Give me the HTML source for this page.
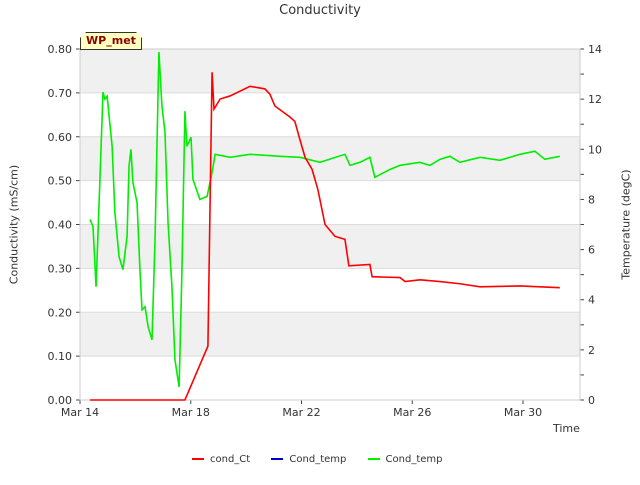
<!DOCTYPE html>
<html><head><style>
body{margin:0;background:#fff;font-family:"Liberation Sans","DejaVu Sans",sans-serif;}
text{font-family:"DejaVu Sans","Liberation Sans",sans-serif;}
</style></head><body>
<svg id="c" width="640" height="480" xmlns="http://www.w3.org/2000/svg"></svg>
<script>
const xTickLabels=["Mar 14","Mar 18","Mar 22","Mar 26","Mar 30"];
const xTickDays=[0,4,8,12,16];
const yLeftTicks=[0,0.1,0.2,0.3,0.4,0.5,0.6,0.7,0.8];
const yRightTicks=[0,2,4,6,8,10,12,14];
const condDays=[0.36,3.79,4.62,4.77,4.84,5.06,5.42,6.14,6.68,6.86,7.04,7.58,7.76,7.94,8.13,8.38,8.59,8.85,9.21,9.57,9.71,10.47,10.55,11.56,11.74,12.28,13.0,13.72,14.45,15.89,17.33];
const condVals=[0,0,0.123,0.747,0.663,0.686,0.693,0.715,0.709,0.697,0.67,0.645,0.635,0.594,0.553,0.526,0.48,0.4,0.373,0.366,0.306,0.309,0.281,0.279,0.27,0.274,0.27,0.265,0.258,0.26,0.256];
const tempDays=[0.36,0.47,0.58,0.72,0.83,0.9,0.98,1.16,1.26,1.41,1.55,1.7,1.77,1.84,1.91,2.06,2.17,2.24,2.35,2.46,2.6,2.71,2.85,2.96,3.07,3.18,3.32,3.43,3.58,3.68,3.79,3.86,4.01,4.08,4.33,4.59,4.77,4.88,5.42,6.14,7.22,7.94,8.67,9.57,9.75,10.11,10.47,10.65,11.2,11.56,12.28,12.64,13.0,13.36,13.72,14.45,15.17,15.89,16.43,16.79,17.33];
const tempVals=[7.2,6.92,4.52,8.8,12.28,12.0,12.12,10.12,7.48,5.72,5.2,6.52,9.32,10.0,8.68,7.88,5.08,3.6,3.72,2.92,2.4,6.4,13.88,11.72,10.68,7.08,4.52,1.6,0.52,5.08,11.52,10.12,10.48,8.8,8.0,8.12,9.08,9.8,9.68,9.8,9.72,9.68,9.48,9.8,9.36,9.48,9.68,8.88,9.2,9.36,9.48,9.36,9.6,9.72,9.48,9.68,9.56,9.8,9.92,9.6,9.72];
const L=80,R=580,T=49,B=400;
const x=d=>L+d*(523-80)/16;
const yl=v=>B-v*(B-T)/0.8;
const yr=v=>B-v*(B-T)/14;
const svg=document.getElementById('c');
const NS="http://www.w3.org/2000/svg";
function mk(tag,attrs,parent){const e=document.createElementNS(NS,tag);for(const k in attrs)e.setAttribute(k,attrs[k]);(parent||svg).appendChild(e);return e;}
for(let i=0;i<8;i++){
  if(i%2===1){const r=mk('rect',{x:L,y:yl(yLeftTicks[i+1]),width:R-L,height:yl(yLeftTicks[i])-yl(yLeftTicks[i+1]),fill:'#f0f0f0'});
  
  }
}
yLeftTicks.forEach(v=>{
  const g=mk('line',{x1:L,x2:R,y1:yl(v),y2:yl(v),stroke:'#dcdcdc','stroke-width':1});
  
  
  const tk=mk('line',{x1:L-4,x2:L,y1:yl(v),y2:yl(v),stroke:'#444'});
  
  
  const t=mk('text',{x:L-8,y:yl(v)+4,'text-anchor':'end','font-size':11,fill:'#333'});
  t.textContent=v.toFixed(2);
  
  
});
for(let v=0;v<=14;v++){
  const tk=mk('line',{x1:R,x2:R+4,y1:yr(v),y2:yr(v),stroke:'#444'});
  
  
}
yRightTicks.forEach(v=>{
  const t=mk('text',{x:R+8,y:yr(v)+4,'font-size':11,fill:'#333'});
  t.textContent=v;
  
  
});
xTickDays.forEach((d,i)=>{
  const tk=mk('line',{x1:x(d),x2:x(d),y1:B,y2:B+4,stroke:'#444'});
  
  
  const t=mk('text',{x:x(d),y:B+16,'text-anchor':'middle','font-size':11,fill:'#333'});
  t.textContent=xTickLabels[i];
  
  
});
const ax=mk('rect',{x:L,y:T,width:R-L,height:B-T,fill:'none',stroke:'#ccc'});


const gp=mk('polyline',{points:tempDays.map((d,i)=>x(d)+','+yr(tempVals[i])).join(' '),fill:'none',stroke:'#00ee00','stroke-width':1.6});


const rp=mk('polyline',{points:condDays.map((d,i)=>x(d)+','+yl(condVals[i])).join(' '),fill:'none',stroke:'#ff0000','stroke-width':1.6});


</script>
<div style="position:absolute;left:0;top:0;width:640px;height:480px;pointer-events:none;font-family:'DejaVu Sans','Liberation Sans',sans-serif;">
<div style="position:absolute;top:3px;width:640px;text-align:center;font-size:13px;color:#333;">Conductivity</div>
<div style="position:absolute;left:-56px;top:218px;width:140px;text-align:center;font-size:11px;color:#333;white-space:nowrap;transform:rotate(-90deg);">Conductivity (mS/cm)</div>
<div style="position:absolute;left:556px;top:218px;width:140px;text-align:center;font-size:11px;color:#333;white-space:nowrap;transform:rotate(-90deg);">Temperature (degC)</div>
<div style="position:absolute;left:553px;top:422px;font-size:11px;color:#333;">Time</div>
<div style="position:absolute;left:80px;top:32px;width:60px;height:16px;background:#ffffc0;border:1px solid #333;clip-path:polygon(6px 0,calc(100% - 6px) 0,100% 6px,100% 100%,0 100%,0 6px);font-size:11px;font-weight:bold;color:#8b0000;text-align:center;line-height:16px;">WP_met</div>
<div style="position:absolute;top:454px;left:192px;font-size:10px;color:#333;white-space:nowrap;">
<span><span style="display:inline-block;width:12px;height:2px;background:#f00;vertical-align:middle;margin-right:6px;"></span>cond_Ct</span>
<span style="margin-left:18px;"><span style="display:inline-block;width:12px;height:2px;background:#00c;vertical-align:middle;margin-right:6px;"></span>Cond_temp</span>
<span style="margin-left:18px;"><span style="display:inline-block;width:12px;height:2px;background:#0e0;vertical-align:middle;margin-right:6px;"></span>Cond_temp</span>
</div>
</div>
</body></html>
